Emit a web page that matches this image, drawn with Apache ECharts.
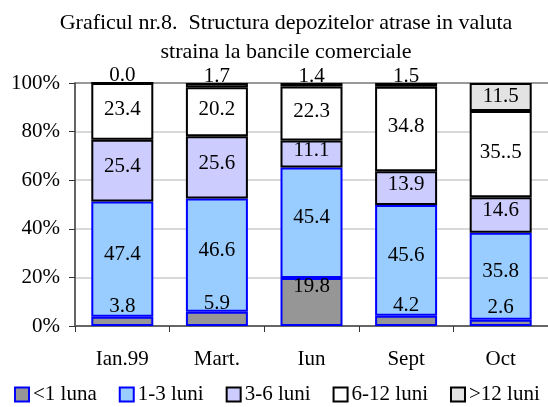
<!DOCTYPE html>
<html>
<head>
<meta charset="utf-8">
<script src="https://cdn.jsdelivr.net/npm/echarts@6/dist/echarts.min.js"></script>
<style>
  html, body { margin: 0; padding: 0; background: #fff; }
  #chart { width: 548px; height: 407px; }
</style>
</head>
<body>
<div id="chart"></div>
<script>
// categorii
const luni = ['Ian.99', 'Mart.', 'Iun', 'Sept', 'Oct']
// structura (%), pe scadente
const sub1Luna = [3.8, 5.9, 19.8, 4.2, 2.6]
const luni1la3 = [47.4, 46.6, 45.4, 45.6, 35.8]
const luni3la6 = [25.4, 25.6, 11.1, 13.9, 14.6]
const luni6la12 = [23.4, 20.2, 22.3, 34.8, 35.5]
const peste12 = [0.0, 1.7, 1.4, 1.5, 11.5]
// eticheta scrisa gresit in original
const eticheteSpeciale = { '6-12 luni|Oct': '35..5' }

const font = 'Liberation Serif'
const chart = echarts.init(document.getElementById('chart'))

function serie(name, data, color, border, dy) {
  return {
    name: name,
    type: 'bar',
    stack: 'total',
    barWidth: 62,
    data: data.map(v => {
      const item = { value: v }
      // valorile mici din varf stau deasupra barei
      if (name === '>12 luni' && v < 5) {
        item.label = { position: 'top', distance: -4, offset: [0, 0] }
      }
      return item
    }),
    itemStyle: { color: color, borderColor: border, borderWidth: 2 },
    label: {
      show: true,
      position: 'inside',
      offset: [0, dy],
      color: '#000',
      fontFamily: font,
      fontSize: 21,
      formatter: p => eticheteSpeciale[name + '|' + p.name] || p.value.toFixed(1)
    }
  }
}

chart.setOption({
  animation: false,
  title: {
    text: 'Graficul nr.8.  Structura depozitelor atrase in valuta\nstraina la bancile comerciale',
    left: 281,
    textAlign: 'center',
    top: 4,
    textStyle: { fontFamily: font, fontSize: 22, fontWeight: 'normal', color: '#000', lineHeight: 29 }
  },
  legend: {
    top: 379,
    left: 9,
    itemWidth: 14,
    itemHeight: 14,
    itemGap: 22,
    icon: 'rect',
    textStyle: { fontFamily: font, fontSize: 21, color: '#000', padding: [0, 0, 0, -1] },
    data: ['<1 luna', '1-3 luni', '3-6 luni', '6-12 luni', '>12 luni']
  },
  grid: { left: 75, right: 0, top: 83, bottom: 81 },
  xAxis: {
    type: 'category',
    data: luni,
    axisLine: { lineStyle: { color: '#666', width: 2 } },
    axisTick: { show: true, length: 6, lineStyle: { color: '#333' } },
    axisLabel: { margin: 23, fontFamily: font, fontSize: 21, color: '#000' }
  },
  yAxis: {
    type: 'value',
    min: 0,
    max: 100,
    interval: 20,
    axisLine: { show: true, lineStyle: { color: '#666', width: 2 } },
    axisTick: { show: true, length: 6, lineStyle: { color: '#333' } },
    axisLabel: { margin: 15, fontFamily: font, fontSize: 21, color: '#000', formatter: v => v + '%' },
    splitLine: { lineStyle: { color: ['#d9d9d9', '#d9d9d9', '#d9d9d9', '#d9d9d9', '#d9d9d9', '#999'], width: 2 } }
  },
  series: [
    serie('<1 luna', sub1Luna, '#969696', '#0000ff', -15),
    serie('1-3 luni', luni1la3, '#99ccff', '#0000ff', -5),
    serie('3-6 luni', luni3la6, '#ccccff', '#000', -4),
    serie('6-12 luni', luni6la12, '#ffffff', '#000', -2),
    serie('>12 luni', peste12, '#e3e3e3', '#000', 0)
  ]
})
</script>
</body>
</html>
